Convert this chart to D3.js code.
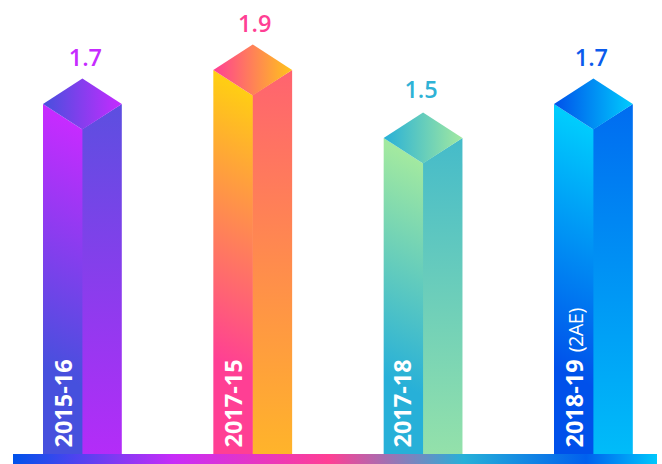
<!DOCTYPE html>
<html>
<head>
<meta charset="utf-8">
<script src="https://cdn.jsdelivr.net/npm/d3@7"></script>
<style>
  html, body { margin: 0; padding: 0; background: #fff; }
  svg { display: block; }
  text { font-family: "Open Sans", "Noto Sans", sans-serif; }
</style>
</head>
<body>
<svg id="chart" width="662" height="464"></svg>
<script>
// Chart data
const periods = ["2015-16", "2017-15", "2017-18", "2018-19"];
const periodNotes = ["", "", "", "(2AE)"];
const values = [1.7, 1.9, 1.5, 1.7];

// Colour ramps per column: [start, end] of each face
const leftFace = [["#c62bff", "#4650dd"], ["#ffcd14", "#ff3f94"], ["#a2e9a0", "#27b0d8"], ["#00ccfd", "#0050ea"]];
const rightFace = [["#5c4fe0", "#b42cf8"], ["#ff6370", "#ffb42a"], ["#45bbca", "#94e1aa"], ["#006cf0", "#00bcf9"]];
const topFace = [["#4650dd", "#c62bff"], ["#ff3f94", "#ffc41a"], ["#27b0d8", "#a2e9a0"], ["#0050ea", "#00ccfd"]];
const labelColors = ["#c62bff", "#ff3f94", "#2fb2d6", "#0b5bec"];
const labelNudgeX = [3, 2, -2, -2];
const labelNudgeY = [0, 0, -2, 0];
const nameInset = [29, 29, 27.5, 29];
const baseStops = [[0, "#0052ea"], [0.25, "#c82cf8"], [0.49, "#ff3f94"], [0.7, "#27b0d8"], [0.89, "#0060ee"], [1, "#00c8fc"]];

const svg = d3.select("#chart");
const defs = svg.append("defs");
const baseline = 455;
const barWidth = 78.8;
const roofRise = 25.5;

const x = d3.scalePoint().domain(periods).range([43, 554]);
const y = d3.scaleLinear().domain([1.5, 1.9]).range([138, 70]);

function gradient(id, stops, x1, y1, x2, y2, units) {
  const g = defs.append("linearGradient").attr("id", id)
    .attr("gradientUnits", units || "objectBoundingBox")
    .attr("x1", x1).attr("y1", y1).attr("x2", x2).attr("y2", y2);
  stops.forEach(([o, c]) => g.append("stop").attr("offset", o).attr("stop-color", c));
}

gradient("base", baseStops, 0, 0, 1, 0);

const path = d3.line();
const bars = svg.selectAll("g.bar").data(periods).join("g").attr("class", "bar");

bars.each(function (p, i) {
  const g = d3.select(this);
  const x0 = x(p), xm = x0 + barWidth / 2, x1 = x0 + barWidth;
  const yt = y(values[i]);

  // Left face shades from the front ridge toward the lower outer corner,
  // reaching its end colour well above the floor
  const dirX = -0.45, dirY = 0.89;
  const ys = yt + roofRise;
  const len = 0.75 * ((x0 - xm) * dirX + (baseline - ys) * dirY);
  gradient("left" + i, [[0, leftFace[i][0]], [1, leftFace[i][1]]],
    xm, ys, xm + dirX * len, ys + dirY * len, "userSpaceOnUse");
  gradient("right" + i, [[0, rightFace[i][0]], [1, rightFace[i][1]]], 0, 0, 0, 1);
  gradient("top" + i, [[0, topFace[i][0]], [1, topFace[i][1]]], 0, 0.5, 1, 0.5);

  g.append("path").attr("fill", `url(#right${i})`)
    .attr("d", path([[xm - 0.6, yt + roofRise], [x1, yt], [x1, baseline], [xm - 0.6, baseline]]) + "Z");
  g.append("path").attr("fill", `url(#left${i})`)
    .attr("d", path([[x0, yt], [xm, yt + roofRise], [xm, baseline], [x0, baseline]]) + "Z");
  g.append("path").attr("fill", `url(#top${i})`)
    .attr("d", path([[x0, yt], [xm, yt - roofRise], [x1, yt], [xm, yt + roofRise]]) + "Z");

  // Value above the roof
  g.append("text")
    .attr("x", xm + labelNudgeX[i]).attr("y", yt - roofRise - 12.5 + labelNudgeY[i])
    .attr("text-anchor", "middle")
    .attr("font-size", 23.5).attr("font-weight", 600)
    .attr("fill", labelColors[i])
    .text(values[i].toFixed(1));

  // Period name, reading upward inside the left face
  const t = g.append("text")
    .attr("transform", `translate(${x0 + nameInset[i]},${baseline - 7.5}) rotate(-90)`)
    .attr("fill", "#fff")
    .attr("font-size", 23.5).attr("font-weight", 700)
    .text(p);
  if (periodNotes[i]) {
    t.append("tspan").attr("dx", 7).attr("font-size", 20).attr("font-weight", 400)
      .attr("letter-spacing", -0.6).text(periodNotes[i]);
  }
});

// Floor strip beneath the columns
svg.append("rect")
  .attr("x", 13).attr("y", 454).attr("width", 644).attr("height", 10)
  .attr("fill", "url(#base)");
</script>
</body>
</html>
